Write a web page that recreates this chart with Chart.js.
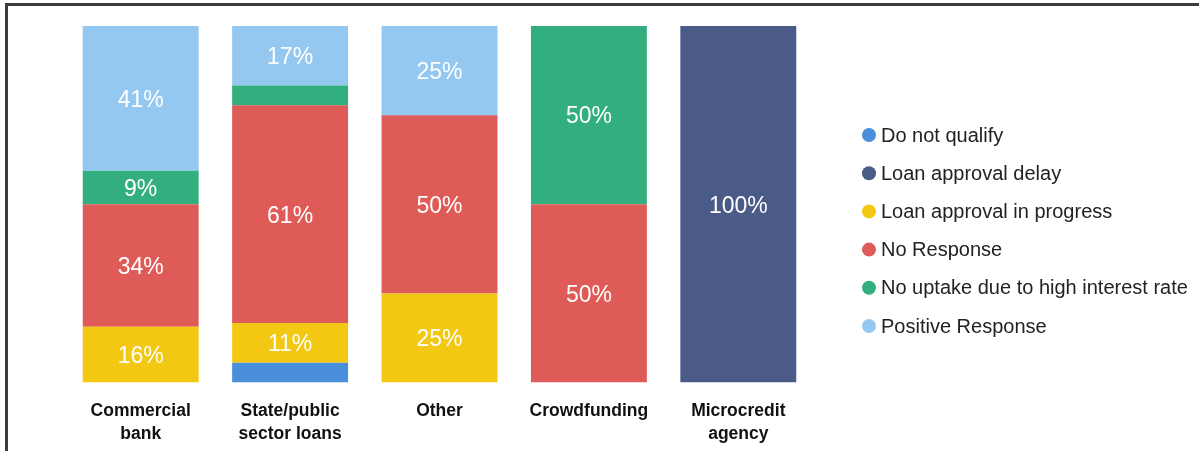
<!DOCTYPE html>
<html>
<head>
<meta charset="utf-8">
<script src="https://cdn.jsdelivr.net/npm/chart.js@4/dist/chart.umd.min.js"></script>
<style>
  html, body { margin: 0; padding: 0; background: #fff; overflow: hidden; }
  #wrap { position: relative; width: 1199px; height: 451px; }
  #frame { position: absolute; left: 5px; top: 3px; width: 1300px; height: 600px;
           border-top: 3px solid #3c3c3c; border-left: 3px solid #3c3c3c; box-sizing: border-box; }
  canvas { position: absolute; left: 0; top: 0; }
</style>
</head>
<body>
<div id="wrap">
  <div id="frame"></div>
  <canvas id="c" width="1199" height="451"></canvas>
</div>
<script>
// Loan outcome by source — 100% stacked bars.
const categories = [
  ["Commercial", "bank"],
  ["State/public", "sector loans"],
  ["Other"],
  ["Crowdfunding"],
  ["Microcredit", "agency"],
];
const seriesNames = [
  "Do not qualify",
  "Loan approval delay",
  "Loan approval in progress",
  "No Response",
  "No uptake due to high interest rate",
  "Positive Response",
];
const seriesColors = ["#4a8fdc", "#4b5b87", "#f3c812", "#de5b57", "#33ae7f", "#95c8f0"];

// percentages per category, bottom to top in legend order
const doNotQualify   = [0,     5.56,  0,  0,  0];
const approvalDelay  = [0,     0,     0,  0,  100];
const inProgress     = [15.63, 11.11, 25, 0,  0];
const noResponse     = [34.38, 61.11, 50, 50, 0];
const highInterest   = [9.38,  5.56,  0,  50, 0];
const positive       = [40.63, 16.67, 25, 0,  0];
const seriesValues = [doNotQualify, approvalDelay, inProgress, noResponse, highInterest, positive];

const MIN_LABEL = 8; // segments smaller than this get no label
const FONT = "'Liberation Sans', Arial, sans-serif";

const segLabels = {
  id: "segLabels",
  afterDatasetsDraw(chart) {
    const ctx = chart.ctx;
    ctx.save();
    ctx.fillStyle = "#ffffff";
    ctx.font = "23px " + FONT;
    ctx.textAlign = "center";
    ctx.textBaseline = "middle";
    chart.data.datasets.forEach((ds, i) => {
      chart.getDatasetMeta(i).data.forEach((bar, j) => {
        const v = ds.data[j];
        if (!v || v < MIN_LABEL) return;
        ctx.fillText(Math.round(v) + "%", bar.x, (bar.y + bar.base) / 2 + 2);
      });
    });
    ctx.restore();
  },
};

const sideLegend = {
  id: "sideLegend",
  afterDraw(chart) {
    const ctx = chart.ctx;
    const x0 = 869, y0 = 135, step = 38.2;
    ctx.save();
    ctx.font = "20px " + FONT;
    ctx.textBaseline = "middle";
    ctx.textAlign = "left";
    seriesNames.forEach((name, i) => {
      const y = y0 + i * step;
      ctx.fillStyle = seriesColors[i];
      ctx.beginPath();
      ctx.arc(x0, y, 7, 0, Math.PI * 2);
      ctx.fill();
      ctx.fillStyle = "#222222";
      ctx.fillText(name, x0 + 12, y + 1);
    });
    ctx.restore();
  },
};

new Chart(document.getElementById("c"), {
  type: "bar",
  data: {
    labels: categories,
    datasets: seriesNames.map((name, i) => ({
      label: name,
      data: seriesValues[i],
      backgroundColor: seriesColors[i],
      borderWidth: 0,
      barPercentage: 0.776,
      categoryPercentage: 1,
    })),
  },
  options: {
    responsive: false,
    animation: false,
    layout: { padding: { left: 66, right: 386, top: 26, bottom: -12 } },
    plugins: { legend: { display: false }, tooltip: { enabled: false } },
    scales: {
      x: {
        stacked: true,
        grid: { display: false, drawTicks: false },
        border: { display: false },
        ticks: {
          color: "#111111",
          padding: 18,
          maxRotation: 0,
          font: { family: FONT, size: 17.5, weight: "bold", lineHeight: 1.27 },
        },
      },
      y: { stacked: true, min: 0, max: 100, display: false },
    },
  },
  plugins: [segLabels, sideLegend],
});
</script>
</body>
</html>
